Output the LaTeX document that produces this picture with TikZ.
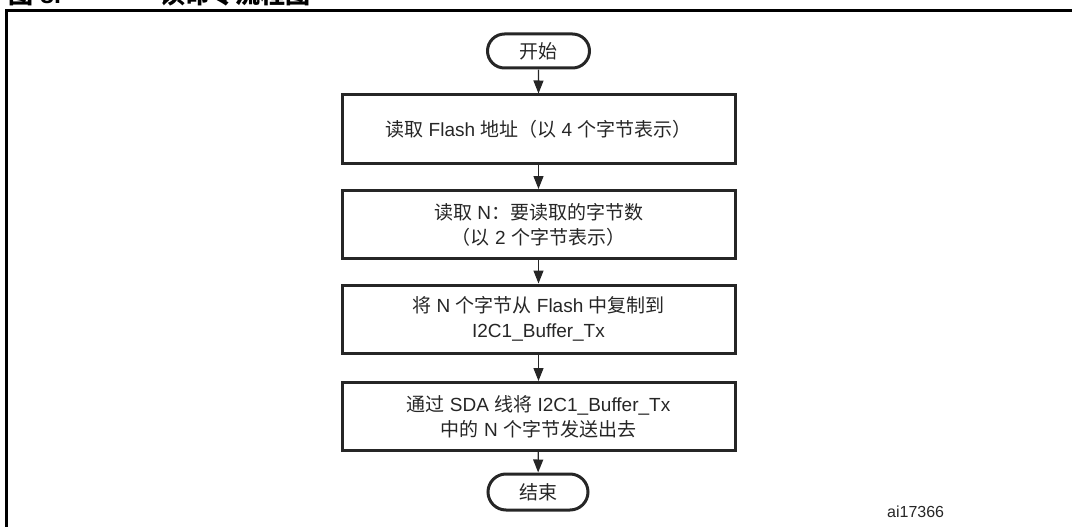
\documentclass[tikz,border=0pt]{standalone}
\usepackage{fontspec}
\setmainfont{Liberation Sans}
\newfontfamily\cjk{Noto Sans CJK SC}
\newcommand\zh[1]{{\cjk #1}}
\usetikzlibrary{arrows.meta,shapes.misc}
\tikzset{
  stepbox/.style={draw=black!85, line width=3pt, minimum width=393pt, minimum height=68pt,
    align=center, inner sep=0pt, text=black!85, font=\fontsize{19}{25}\selectfont},
  termbox/.style={draw=black!85, line width=3pt, rounded rectangle, minimum width=102pt,
    minimum height=34pt, inner sep=0pt, text=black!85, font=\fontsize{19}{25}\selectfont},
  arr/.style={line width=1.3pt, draw=black!85, -{Triangle[length=13pt,width=10pt]}},
  frame/.style={line width=3pt, draw=black},
}
\begin{document}
\begin{tikzpicture}[x=1pt,y=-1pt]
\useasboundingbox (0,0) rectangle (1072,527);
\clip (0,0) rectangle (1072,527);
% caption (partly cut off at the top)
\node[anchor=base west, inner sep=0pt, font=\fontsize{25}{25}\selectfont\bfseries] (capnum) at (8,4) {\zh{图} 8.};
\node[anchor=base west, inner sep=0pt, font=\fontsize{25}{25}\selectfont\bfseries] (captext) at (160,4) {\zh{读命令流程图}};
% frame
\coordinate (fbl) at (6,530);
\coordinate (ftl) at (6,11);
\coordinate (ftr) at (1075,11);
\draw[frame] (fbl) -- (ftl) -- (ftr);
% nodes
\node[termbox] (start) at (538.5,51) {\zh{开始}};
\node[stepbox] (b1) at (538.5,129) {\zh{读取} Flash \zh{地址（以} 4 \zh{个字节表示）}};
\node[stepbox] (b2) at (538.5,224.5) {\zh{读取} N\zh{：要读取的字节数}\\\zh{（以} 2 \zh{个字节表示）}};
\node[stepbox] (b3) at (538.5,319) {\zh{将} N \zh{个字节从} Flash \zh{中复制到}\\I2C1\_Buffer\_Tx};
\node[stepbox] (b4) at (538.5,416.5) {\zh{通过} SDA \zh{线将} I2C1\_Buffer\_Tx\\\zh{中的} N \zh{个字节发送出去}};
\node[termbox, minimum height=36pt, minimum width=100pt] (end) at (538,492) {\zh{结束}};
\node[anchor=west, inner sep=0pt, font=\fontsize{16}{16}\selectfont, text=black!85] (id) at (887,512) {ai17366};
% connectors
\draw[arr] (start) -- (b1);
\draw[arr] (b1) -- (b2);
\draw[arr] (b2) -- (b3);
\draw[arr] (b3) -- (b4);
\draw[arr] (b4) -- (end);
\end{tikzpicture}
\end{document}
